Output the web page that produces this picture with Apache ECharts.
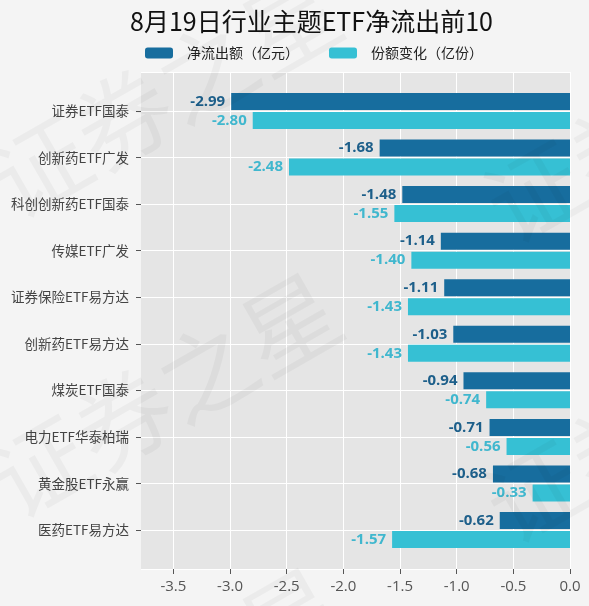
<!DOCTYPE html>
<html>
<head>
<meta charset="utf-8">
<script src="https://cdn.jsdelivr.net/npm/echarts@6/dist/echarts.min.js"></script>
<style>
  html, body { margin: 0; padding: 0; background: #f4f4f4; }
  #main { width: 589px; height: 606px; }
</style>
</head>
<body>
<div id="main"></div>
<script>
const categories = ['证券ETF国泰', '创新药ETF广发', '科创创新药ETF国泰', '传媒ETF广发', '证券保险ETF易方达',
  '创新药ETF易方达', '煤炭ETF国泰', '电力ETF华泰柏瑞', '黄金股ETF永赢', '医药ETF易方达']
const netOutflow = [-2.99, -1.68, -1.48, -1.14, -1.11, -1.03, -0.94, -0.71, -0.68, -0.62]
const shareChange = [-2.80, -2.48, -1.55, -1.40, -1.43, -1.43, -0.74, -0.56, -0.33, -1.57]
const seriesNames = ['净流出额（亿元）', '份额变化（亿份）']
const xTicks = [-3.5, -3.0, -2.5, -2.0, -1.5, -1.0, -0.5, 0.0]
const xMin = -3.786
const xMax = 0
// panel padding around the category rows, in row units
const rowPad = 0.8357

const font = '"Noto Sans CJK SC", "Open Sans", sans-serif'
const numFont = '"Open Sans", sans-serif'
const chart = echarts.init(document.getElementById('main'))

// faint "证券之星" watermark
const wm = (x, y) => ({
  type: 'text', x, y, rotation: 0.52, z: 100, silent: true,
  style: {
    text: '证券之星', fontSize: 96, fontFamily: font, fill: 'rgba(0,0,0,0.035)',
    align: 'center', verticalAlign: 'middle'
  }
})

const option = {
  backgroundColor: '#f4f4f4',
  animation: false,
  title: {
    text: '8月19日行业主题ETF净流出前10',
    left: 125, top: 4,
    textStyle: { fontFamily: font, fontSize: 25, fontWeight: 'normal', color: '#111' }
  },
  legend: {
    top: 46, left: 145, padding: 0,
    itemWidth: 28, itemHeight: 11, itemGap: 30,
    textStyle: { fontFamily: font, fontSize: 14, color: '#222', padding: [0, 0, 0, 9] },
    data: seriesNames
  },
  graphic: [wm(165, 95), wm(165, 395), wm(165, 690), wm(660, 120), wm(660, 420)],
  grid: [
    { left: 141, right: 19, top: 72, bottom: 37, show: true, backgroundColor: '#e5e5e5', borderWidth: 0 },
    { left: 141, right: 19, top: 87.7, bottom: 52.7 }
  ],
  xAxis: [
    {
      gridIndex: 0, type: 'value', min: xMin, max: xMax,
      axisLine: { show: false, onZero: false },
      axisTick: { show: true, length: 5, customValues: xTicks, lineStyle: { color: '#555' } },
      splitLine: { show: true, lineStyle: { color: '#ffffff', width: 1 } },
      axisLabel: {
        customValues: xTicks, color: '#555', fontFamily: numFont, fontSize: 15, margin: 10,
        formatter: v => v.toFixed(1)
      }
    },
    { gridIndex: 1, type: 'value', min: xMin, max: xMax, show: false, axisLine: { onZero: false } }
  ],
  yAxis: [
    {
      // row guide lines through category centres
      gridIndex: 0, type: 'value', inverse: true,
      min: -rowPad, max: categories.length - 1 + rowPad,
      splitNumber: 10, minInterval: 1, maxInterval: 1,
      axisLine: { show: false, onZero: false }, axisTick: { show: false }, axisLabel: { show: false },
      splitLine: { show: true, lineStyle: { color: '#ffffff', width: 1 } }
    },
    {
      gridIndex: 1, type: 'category', inverse: true, data: categories,
      axisLine: { show: false, onZero: false },
      axisTick: { show: true, alignWithLabel: true, length: 5, lineStyle: { color: '#555' } },
      splitLine: { show: false },
      axisLabel: { color: '#444', fontFamily: font, fontSize: 13.5, margin: 12 }
    }
  ],
  series: [
    {
      name: seriesNames[0], type: 'bar', xAxisIndex: 1, yAxisIndex: 1,
      data: netOutflow, barWidth: 17, barGap: '12%',
      itemStyle: { color: '#176d9e' },
      label: {
        show: true, position: 'left', distance: 6, formatter: p => p.value.toFixed(2),
        color: '#1d5f8a', fontWeight: 'bold', fontSize: 15, fontFamily: numFont
      }
    },
    {
      name: seriesNames[1], type: 'bar', xAxisIndex: 1, yAxisIndex: 1,
      data: shareChange, barWidth: 17, barGap: '12%',
      itemStyle: { color: '#36c0d4' },
      label: {
        show: true, position: 'left', distance: 6, formatter: p => p.value.toFixed(2),
        color: '#40b7ce', fontWeight: 'bold', fontSize: 15, fontFamily: numFont
      }
    }
  ]
}

chart.setOption(option)
</script>
</body>
</html>
